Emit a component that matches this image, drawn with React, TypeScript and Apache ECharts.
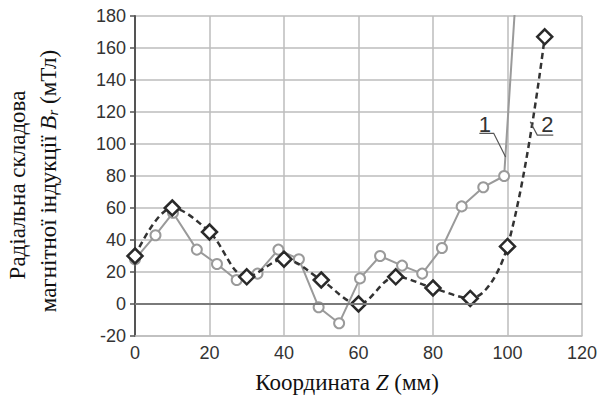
import React, { useEffect, useRef } from "react";
import * as echarts from "echarts";

// Curve 1: measured radial component (mm, mT)
const curve1Z = [0, 5.5, 10.2, 16.6, 22, 27.3, 32.9, 38.5, 44, 49.3, 54.8, 60.4, 65.8, 71.7, 77.1, 82.4, 87.7, 93.5, 99.1, 104.5];
const curve1B = [28, 43, 57, 34, 25, 15, 19, 34, 28, -2, -12, 16, 30, 24, 19, 35, 61, 73, 80, 275];

// Curve 2: computed radial component (mm, mT)
const curve2Z = [0, 10, 20, 30, 40, 50, 60, 70, 80, 90, 100, 110];
const curve2B = [30, 60, 45, 17, 28, 15, 0, 17, 10, 3.5, 36, 167];

// Axis ticks
const xTicks = [0, 20, 40, 60, 80, 100, 120];
const yTicks = [-20, 0, 20, 40, 60, 80, 100, 120, 140, 160, 180];

// Curve callouts, in data units: leader polyline and number position
const callout1Leader = [[92.45, 106.7], [96.3, 106.7], [99.5, 91.9]];
const callout1Text = [93.9, 112.5];
const callout2Leader = [[106.1, 113.9], [108, 105.6], [112.3, 105.6]];
const callout2Text = [110.7, 111.9];

const SERIF = "Liberation Serif";
const SANS = "Liberation Sans";

export default function App() {
  const ref = useRef<HTMLDivElement>(null);

  useEffect(() => {
    if (!ref.current) return;
    const chart = echarts.init(ref.current, null, { renderer: "svg" });

    const s1 = curve1Z.map((z, i) => [z, curve1B[i]]);
    const s2 = curve2Z.map((z, i) => [z, curve2B[i]]);

    chart.setOption({
      animation: false,
      backgroundColor: "#ffffff",
      grid: { left: 135, top: 16, width: 450, height: 320, containLabel: false },
      xAxis: {
        type: "value",
        min: xTicks[0],
        max: xTicks[xTicks.length - 1],
        interval: 20,
        axisLine: { show: true, onZero: false, lineStyle: { color: "#bdbdbd", width: 1.5 } },
        axisTick: { show: false },
        axisLabel: { color: "#333", fontFamily: SANS, fontSize: 18, margin: 8 },
        splitLine: { show: true, lineStyle: { color: "#bdbdbd", width: 1.5 } },
      },
      yAxis: {
        type: "value",
        min: yTicks[0],
        max: yTicks[yTicks.length - 1],
        interval: 20,
        axisLine: { show: true, lineStyle: { color: "#555", width: 2 } },
        axisTick: { show: true, inside: false, length: 5, lineStyle: { color: "#555", width: 1.5 } },
        axisLabel: { color: "#333", fontFamily: SANS, fontSize: 18, margin: 9 },
        splitLine: { show: true, lineStyle: { color: "#bdbdbd", width: 1.5 } },
      },
      series: [
        {
          type: "line",
          data: s1,
          symbol: "emptyCircle",
          symbolSize: 10,
          clip: true,
          z: 3,
          lineStyle: { color: "#9a9a9a", width: 2 },
          itemStyle: { color: "#9a9a9a", borderColor: "#9a9a9a", borderWidth: 2 },
          markLine: {
            silent: true,
            symbol: "none",
            label: { show: false },
            lineStyle: { color: "#7a7a7a", width: 2, type: "solid" },
            data: [{ yAxis: 0 }],
          },
        },
        {
          type: "line",
          data: s2,
          smooth: 0.35,
          symbol: "diamond",
          symbolSize: 15,
          clip: true,
          z: 4,
          lineStyle: { color: "#333", width: 2.5, type: [6, 4] },
          itemStyle: { color: "#ffffff", borderColor: "#2a2a2a", borderWidth: 2.5 },
        },
      ],
    });

    // Titles and curve callouts, the callouts placed through the grid's coordinate system
    const px = (p: number[]) => chart.convertToPixel({ gridIndex: 0 }, p) as number[];
    const callout = (leader: number[][], at: number[], label: string) => {
      const t = px(at);
      return [
        {
          type: "polyline",
          silent: true,
          z: 10,
          shape: { points: leader.map(px) },
          style: { stroke: "#555", lineWidth: 1.2, fill: "none" },
        },
        {
          type: "text",
          x: t[0],
          y: t[1],
          z: 10,
          style: {
            text: label,
            fontFamily: SANS,
            fontSize: 22,
            fill: "#333",
            align: "center",
            verticalAlign: "middle",
          },
        },
      ];
    };

    chart.setOption({
      graphic: [
        {
          type: "text",
          x: 17.5,
          y: 185,
          rotation: Math.PI / 2,
          style: {
            text: "Радіальна складова",
            fontFamily: SERIF,
            fontSize: 23,
            fill: "#111",
            align: "center",
            verticalAlign: "middle",
          },
        },
        {
          type: "text",
          x: 47,
          y: 181,
          rotation: Math.PI / 2,
          style: {
            text: "{n|магнітної індукції }{i|B}{s|r}{n| (мТл)}",
            fill: "#111",
            align: "center",
            verticalAlign: "middle",
            rich: {
              n: { fontFamily: SERIF, fontSize: 23, fill: "#111", lineHeight: 26, verticalAlign: "bottom" },
              i: { fontFamily: SERIF, fontSize: 23, fontStyle: "italic", fill: "#111", lineHeight: 26, verticalAlign: "bottom" },
              s: { fontFamily: SERIF, fontSize: 15, fontStyle: "italic", fill: "#111", lineHeight: 26, verticalAlign: "bottom" },
            },
          },
        },
        {
          type: "text",
          x: 347,
          y: 382,
          style: {
            text: "{n|Координата }{i|Z}{n| (мм)}",
            align: "center",
            verticalAlign: "middle",
            rich: {
              n: { fontFamily: SERIF, fontSize: 23, fill: "#111" },
              i: { fontFamily: SERIF, fontSize: 23, fontStyle: "italic", fill: "#111" },
            },
          },
        },
        ...callout(callout1Leader, callout1Text, "1"),
        ...callout(callout2Leader, callout2Text, "2"),
      ],
    });

    return () => chart.dispose();
  }, []);

  return (
    <div
      ref={ref}
      style={{ position: "absolute", left: 0, top: 0, width: 600, height: 398 }}
    />
  );
}
